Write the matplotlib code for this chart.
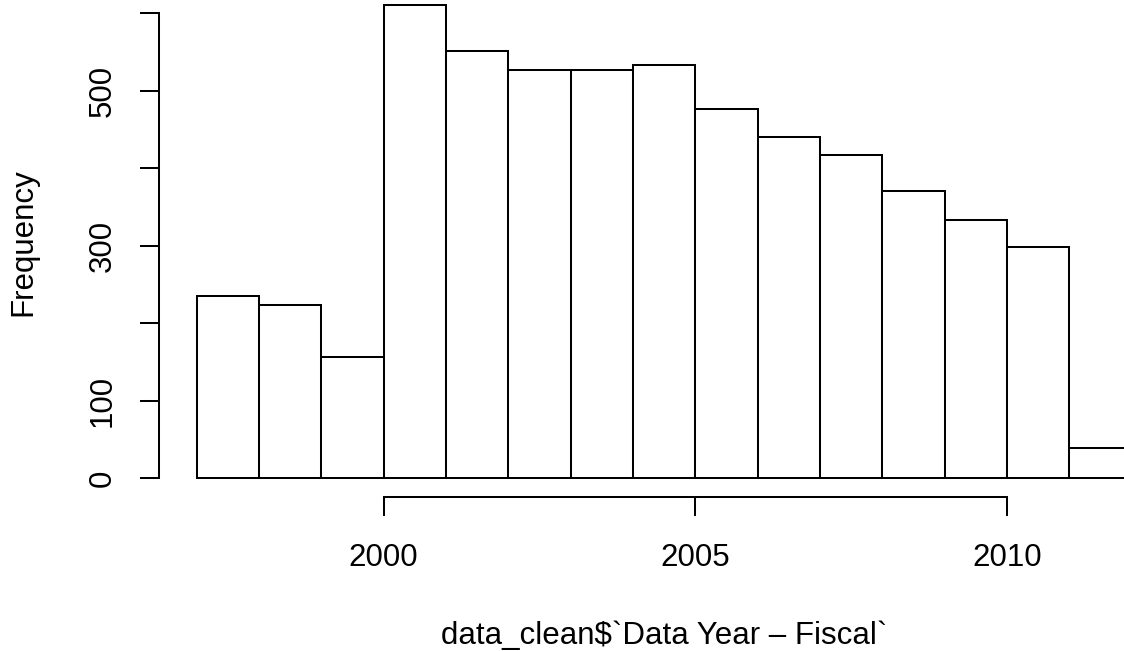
import numpy as np
import matplotlib
matplotlib.use("Agg")
import matplotlib.pyplot as plt

# histogram bins (one per fiscal year) and counts
bin_edges = np.arange(1997, 2013)
counts = [235, 224, 156, 611, 552, 527, 527, 533, 477, 440, 417, 371, 333, 299, 39]

x_ticks = [2000, 2005, 2010]
y_ticks = [0, 100, 200, 300, 400, 500, 600]
y_tick_labels = ["0", "100", "", "300", "", "500", ""]

plt.rcParams['font.family'] = ['Liberation Sans', 'DejaVu Sans']

W, H = 1124, 651
fig = plt.figure(figsize=(W / 100, H / 100), dpi=100)

# plot region in pixels (R-style, extends slightly past the figure edge)
left_px, right_px, bottom_px, top_px = 159.3, 1169.0, 497.3, -14.0
ax = fig.add_axes([left_px / W, (H - bottom_px) / H,
                   (right_px - left_px) / W, (bottom_px - top_px) / H])

lw = 1.45
ax.bar(bin_edges[:-1], counts, width=np.diff(bin_edges), align='edge',
       facecolor='white', edgecolor='black', linewidth=lw)

span = bin_edges[-1] - bin_edges[0]
ax.set_xlim(bin_edges[0] - 0.04 * span, bin_edges[-1] + 0.04 * span)
ax.set_ylim(-0.04 * max(counts), 1.04 * max(counts))

for s in ['top', 'right']:
    ax.spines[s].set_visible(False)
ax.spines['left'].set_bounds(0, 600)
ax.spines['bottom'].set_bounds(2000, 2010)
ax.spines['left'].set_linewidth(lw)
ax.spines['bottom'].set_linewidth(lw)

ax.set_xticks(x_ticks)
ax.set_xticklabels([str(t) for t in x_ticks])
ax.set_yticks(y_ticks)
ax.set_yticklabels(y_tick_labels, rotation=90, va='center')
ax.tick_params(axis='both', direction='out', length=13.7, width=lw,
               labelsize=22.5, colors='black')
ax.tick_params(axis='x', pad=19)
ax.tick_params(axis='y', pad=16)

ax.set_xlabel("data_clean$`Data Year \u2013 Fiscal`", fontsize=22.5, labelpad=35)
ax.set_ylabel("Frequency", fontsize=22.5, labelpad=36)

fig.savefig("out.png", dpi=100)
